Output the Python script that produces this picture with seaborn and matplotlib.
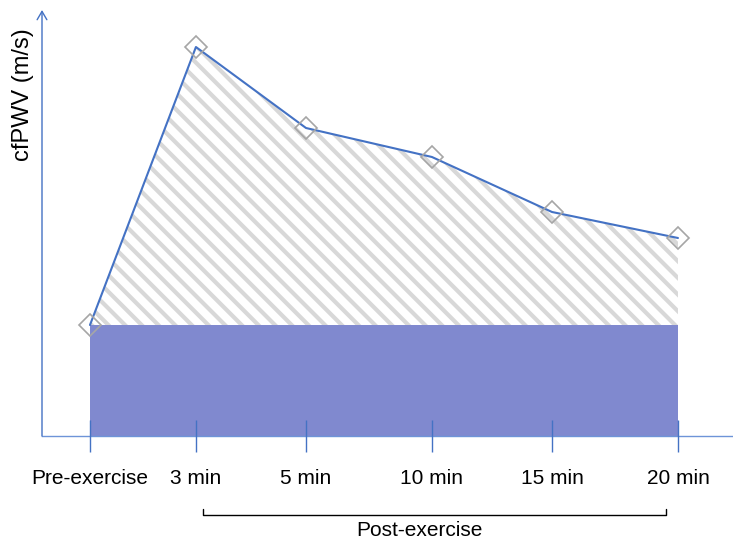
import matplotlib
matplotlib.use("Agg")
import matplotlib.pyplot as plt
import seaborn as sns
import pandas as pd

# data (arbitrary units, no y ticks in the original)
timepoints = ["Pre-exercise", "3 min", "5 min", "10 min", "15 min", "20 min"]
cfpwv = [2.22, 7.78, 6.16, 5.58, 4.48, 3.96]
baseline = cfpwv[0]

# the category axis is not evenly spaced in the original
x_pos = [0, 0.901, 1.837, 2.908, 3.929, 5.0]

df = pd.DataFrame({"pos": x_pos, "time": timepoints, "cfpwv": cfpwv})

sns.set_style("white", {"text.color": "black", "xtick.color": "black"})
plt.rcParams["font.family"] = ["Liberation Sans", "DejaVu Sans"]
plt.rcParams["hatch.linewidth"] = 3.0
plt.rcParams["hatch.color"] = "#D8D8D8"

fig = plt.figure(figsize=(7.33, 5.48), dpi=100)
ax = fig.add_axes([42 / 733, 112 / 548, 691 / 733, 426 / 548])
ax.set_axisbelow(False)

axis_blue = "#4472C4"

# baseline block
ax.fill_between(df["pos"], 0, baseline, color="#8089CF", linewidth=0, zorder=1)

# hatched area above baseline
ax.fill_between(df["pos"], baseline, df["cfpwv"], facecolor="white",
                edgecolor="#D8D8D8", hatch="\\\\", linewidth=0, zorder=1)

sns.lineplot(data=df, x="pos", y="cfpwv", color=axis_blue, linewidth=1.5,
             marker="D", markersize=11, markerfacecolor="none",
             markeredgecolor="#A6A6A6", markeredgewidth=1.2, ax=ax, zorder=3)

ax.set_xlim(-0.408, 5.468)
ax.set_ylim(0, 8.52)

ax.set_xticks(df["pos"])
ax.set_xticklabels(timepoints, fontsize=15, color="black")
ax.set_yticks([])
ax.set_xlabel("")
ax.set_ylabel("")
ax.tick_params(axis="x", bottom=True, direction="inout", length=23, width=1,
               color=axis_blue, pad=12)

for s in ["top", "right", "left"]:
    ax.spines[s].set_visible(False)
ax.spines["bottom"].set_color("#6E94D8")
ax.spines["bottom"].set_linewidth(1)

# y axis with open arrow head
ax.annotate("", xy=(0, 1.0), xycoords="axes fraction", xytext=(0, 0),
            arrowprops=dict(arrowstyle="->,head_length=0.6,head_width=0.35",
                            color=axis_blue, lw=1, shrinkA=0, shrinkB=0))

fig.text(23 / 733, 1 - 95 / 548, "cfPWV (m/s)", rotation=90, fontsize=17,
         ha="center", va="center", color="black")

# post-exercise bracket
trans = ax.get_xaxis_transform()
ax.plot([0.96, 0.96, 4.9, 4.9], [-0.171, -0.185, -0.185, -0.171], color="black",
        linewidth=1, transform=trans, clip_on=False)
ax.text(2.8, -0.222, "Post-exercise", transform=trans, ha="center", va="center",
        fontsize=15, color="black")

fig.savefig("out.png", dpi=100)
